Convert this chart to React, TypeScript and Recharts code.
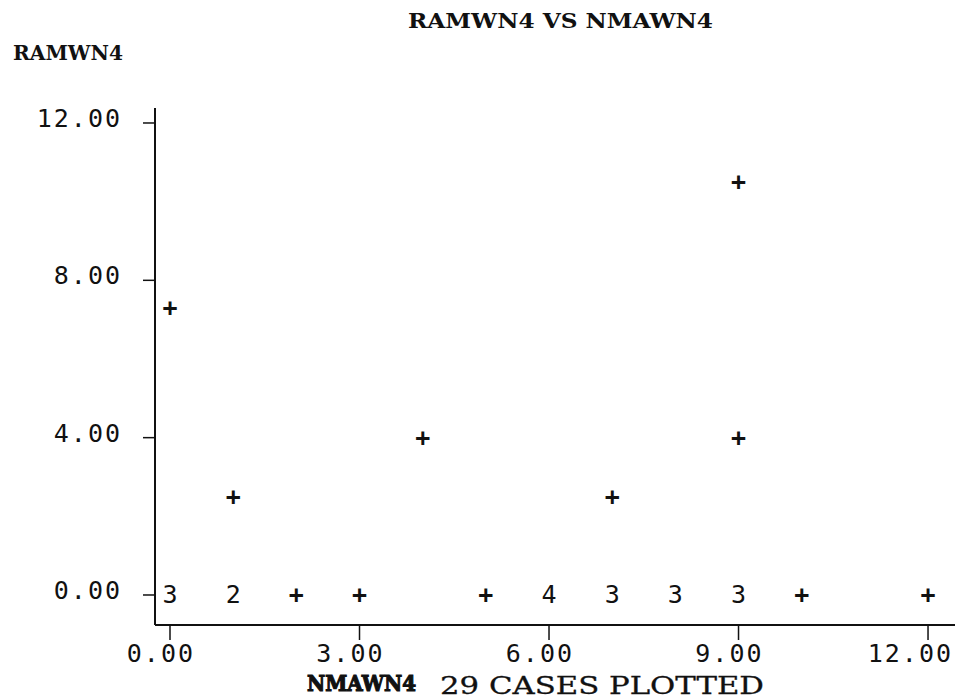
import React from "react";
import { ScatterChart, Scatter, XAxis, YAxis } from "recharts";

// Each of the 29 cases (NMAWN4, RAMWN4)
const nmawn4 = [0, 0, 0, 0, 1, 1, 1, 2, 3, 4, 5, 6, 6, 6, 6, 7, 7, 7, 7, 8, 8, 8, 9, 9, 9, 9, 9, 10, 12];
const ramwn4 = [0, 0, 0, 7.3, 0, 0, 2.5, 0, 0, 4, 0, 0, 0, 0, 0, 0, 0, 0, 2.5, 0, 0, 0, 0, 0, 0, 4, 10.5, 0, 0];

const xTicks = [0, 3, 6, 9, 12];
const yTicks = [0, 4, 8, 12];
const xTickLabels = ["0.00", "3.00", "6.00", "9.00", "12.00"];
const yTickLabels = ["0.00", "4.00", "8.00", "12.00"];

const title = "RAMWN4 VS NMAWN4";
const yName = "RAMWN4";
const xName = "NMAWN4";
const casesText = "29 CASES PLOTTED";

// group overlapping cases: "+" for one case, digit for several
const grouped: { x: number; y: number; n: number }[] = [];
nmawn4.forEach((x, i) => {
  const y = ramwn4[i];
  const g = grouped.find((p) => p.x === x && p.y === y);
  if (g) g.n += 1;
  else grouped.push({ x, y, n: 1 });
});
const points = grouped.map((p) => ({ x: p.x, y: p.y, label: p.n === 1 ? "+" : String(p.n) }));

const INK = "#111";
const MONO = "'DejaVu Sans Mono', monospace";
const SERIF = "'DejaVu Serif', serif";

const Marker = (props: any) => {
  const { cx, cy, payload } = props;
  const plus = payload.label === "+";
  return (
    <text
      x={cx}
      y={cy + 8}
      textAnchor="middle"
      fontFamily={MONO}
      fontSize={25}
      fontWeight={plus ? "bold" : "normal"}
      fill={INK}
    >
      {payload.label}
    </text>
  );
};

const XTick = (props: any) => {
  const { x, y, payload } = props;
  const idx = xTicks.indexOf(payload.value);
  return (
    <text x={x + 25} y={y + 22} textAnchor="end" fontFamily={MONO} fontSize={25} letterSpacing={2} fill={INK}>
      {xTickLabels[idx]}
    </text>
  );
};

const YTick = (props: any) => {
  const { x, y, payload } = props;
  const idx = yTicks.indexOf(payload.value);
  return (
    <text x={x} y={y + 4} textAnchor="end" fontFamily={MONO} fontSize={25} letterSpacing={2} fill={INK}>
      {yTickLabels[idx]}
    </text>
  );
};

export default function App() {
  return (
    <div style={{ position: "absolute", left: 0, top: 0, width: 959, height: 699, background: "#fff" }}>
      <ScatterChart width={959} height={699} margin={{ top: 108, right: 4, bottom: 0, left: 0 }}>
        <XAxis
          type="number"
          dataKey="x"
          domain={[-0.2375, 12.427]}
          ticks={xTicks}
          allowDataOverflow
          height={74}
          tickSize={15}
          tickMargin={0}
          axisLine={{ stroke: INK, strokeWidth: 2 }}
          tickLine={{ stroke: INK, strokeWidth: 1.5 }}
          tick={<XTick />}
        />
        <YAxis
          type="number"
          dataKey="y"
          domain={[-0.763, 12.381]}
          ticks={yTicks}
          allowDataOverflow
          width={155}
          tickSize={12}
          tickMargin={21}
          axisLine={{ stroke: INK, strokeWidth: 2 }}
          tickLine={{ stroke: INK, strokeWidth: 1.5 }}
          tick={<YTick />}
        />
        <Scatter data={points} isAnimationActive={false} shape={<Marker />} />
        <text x={408} y={28} textLength={305} lengthAdjust="spacingAndGlyphs" fontFamily={SERIF} fontWeight="bold" fontSize={21} fill={INK}>
          {title}
        </text>
        <text x={13} y={60} textLength={110} lengthAdjust="spacingAndGlyphs" fontFamily={SERIF} fontWeight="bold" fontSize={21} fill={INK}>
          {yName}
        </text>
        <text x={307} y={691} textLength={109} lengthAdjust="spacingAndGlyphs" fontFamily={SERIF} fontWeight="bold" fontSize={23} fill={INK} stroke={INK} strokeWidth={1.2}>
          {xName}
        </text>
        <text x={440} y={694} textLength={324} lengthAdjust="spacingAndGlyphs" fontFamily={SERIF} fontSize={25} fill={INK} stroke={INK} strokeWidth={0.3}>
          {casesText}
        </text>
      </ScatterChart>
    </div>
  );
}
